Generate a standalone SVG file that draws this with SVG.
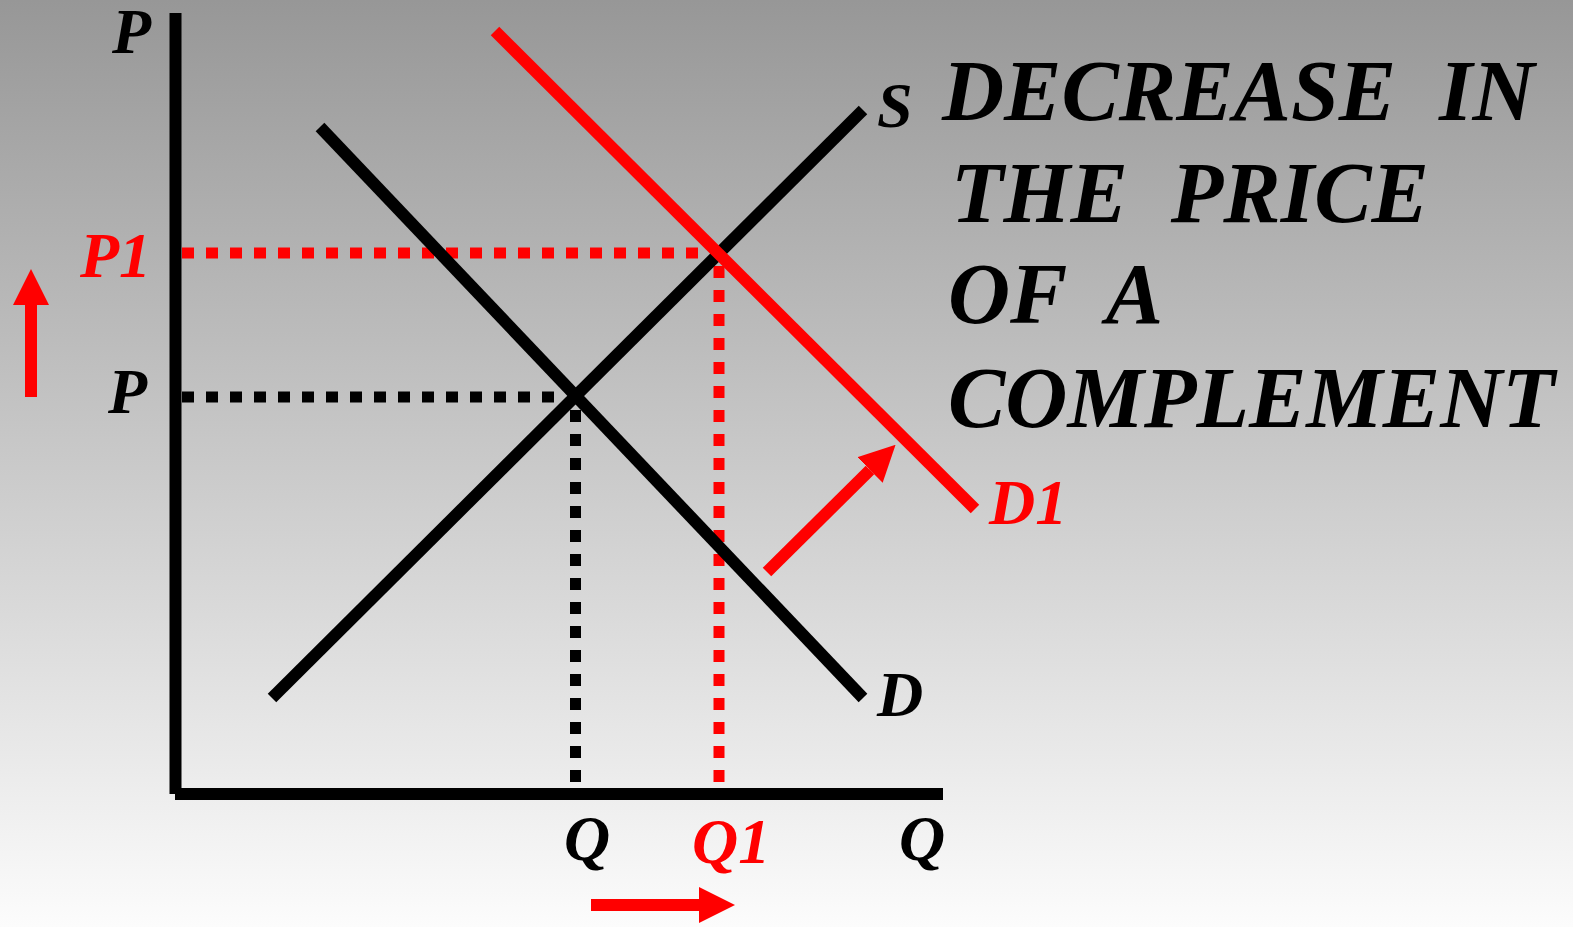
<svg xmlns="http://www.w3.org/2000/svg" width="1573" height="927" viewBox="0 0 1573 927">
<defs>
<linearGradient id="bg" x1="0" y1="0" x2="0" y2="1">
<stop offset="0" stop-color="#979797"/>
<stop offset="1" stop-color="#fcfcfc"/>
</linearGradient>
<marker id="ah" viewBox="0 0 36 36" markerUnits="userSpaceOnUse" markerWidth="36" markerHeight="36" refX="0" refY="18" orient="auto">
<path d="M0,0 L36,18 L0,36 Z" fill="#ff0000"/>
</marker>
<style>
.ax{stroke:#000;stroke-width:12;fill:none}
.crv{stroke:#000;stroke-width:12;fill:none}
.crvr{stroke:#ff0000;stroke-width:12;fill:none}
.dk{stroke:#000;stroke-width:11;stroke-dasharray:12 12;fill:none}
.dr{stroke:#ff0000;stroke-width:11;stroke-dasharray:12 12;fill:none}
.arr{stroke:#ff0000;stroke-width:12;fill:none;marker-end:url(#ah)}
.lb{font-size:64px;fill:#000}
.red{fill:#ff0000}
.tt{font-size:86px;fill:#000;white-space:pre}
</style>
</defs>
<rect x="0" y="0" width="1573" height="927" fill="url(#bg)"/>
<g id="axes">
<line class="ax" x1="175.5" y1="13" x2="175.5" y2="794"/>
<line class="ax" x1="175" y1="794" x2="943" y2="794"/>
</g>
<g id="connectors">
<line class="dr" x1="182" y1="253" x2="716" y2="253"/>
<line class="dr" x1="719" y1="266" x2="719" y2="788"/>
<line class="dk" x1="182" y1="397" x2="566" y2="397"/>
<line class="dk" x1="575.5" y1="410" x2="575.5" y2="788"/>
<line class="arr" x1="767" y1="572" x2="870" y2="470"/>
<line class="arr" x1="31" y1="397" x2="31" y2="305"/>
<line class="arr" x1="591" y1="905" x2="699" y2="905"/>
</g>
<g id="demand">
<line class="crv" x1="320" y1="127" x2="863" y2="698"/>
</g>
<g id="supply">
<line class="crv" x1="272" y1="698" x2="863" y2="110"/>
</g>
<g id="demand1">
<line class="crvr" x1="495" y1="31" x2="975" y2="509"/>
</g>
<g id="labels" font-family="Liberation Serif" font-weight="bold" font-style="italic">
<text class="lb" x="112" y="53">P</text>
<text class="lb red" x="80" y="277">P1</text>
<text class="lb" x="108" y="413">P</text>
<text class="lb" x="877" y="127" font-size="68">S</text>
<text class="lb" x="877" y="716">D</text>
<text class="lb red" x="989" y="524">D1</text>
<text class="lb" x="564" y="860">Q</text>
<text class="lb red" x="692" y="863">Q1</text>
<text class="lb" x="899" y="860">Q</text>
</g>
<g id="title" font-family="Liberation Serif" font-weight="bold" font-style="italic">
<text class="tt" x="942" y="120" xml:space="preserve">DECREASE  IN</text>
<text class="tt" x="951" y="222" xml:space="preserve">THE  PRICE</text>
<text class="tt" x="948" y="323" xml:space="preserve">OF  A</text>
<text class="tt" x="948" y="427">COMPLEMENT</text>
</g>
</svg>
